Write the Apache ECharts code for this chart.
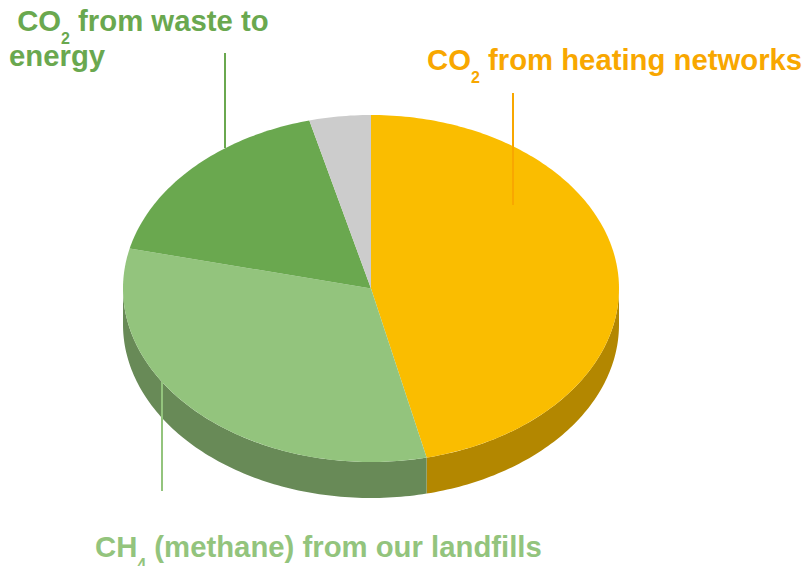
<!DOCTYPE html>
<html><head><meta charset="utf-8">
<script src="https://cdn.jsdelivr.net/npm/echarts@6/dist/echarts.min.js"></script>
<style>html,body{margin:0;padding:0;background:#fff}#c{width:809px;height:566px}</style>
</head><body><div id="c"></div>
<script>
// ---- data ----
const categories = ['CO2 from heating networks', 'CH4 (methane) from our landfills', 'CO2 from waste to energy', 'Other'];
const values = [46.4, 32.3, 17.3, 4.0];
const topColors = ['#FABD00', '#93C47D', '#6AA84F', '#CCCCCC'];
const sideColors = ['#B38700', '#688A57', '#4C7A38', '#999999'];
const labelColors = ['#F8A700', '#93C47D', '#6AA84F', null];

// ---- layout ----
const CX = 371, CY = 288.5, RX = 248, RY = 173.5, DEPTH = 36;
const total = values.reduce((a, b) => a + b, 0);
const starts = []; let acc = 0;
values.forEach(v => { starts.push(acc / total * Math.PI * 2); acc += v; });

function pt(t, dz) { return [CX + RX * Math.sin(t), CY - RY * Math.cos(t) + (dz || 0)]; }
function arc(a0, a1, dz) {
  const n = Math.max(2, Math.ceil((a1 - a0) / (Math.PI / 180)));
  const out = [];
  for (let i = 0; i <= n; i++) out.push(pt(a0 + (a1 - a0) * i / n, dz));
  return out;
}
function renderItem(params, api) {
  const i = params.dataIndex;
  const v = api.value(0);
  const a0 = starts[i], a1 = a0 + v / total * Math.PI * 2;
  const children = [];
  const s0 = Math.max(a0, Math.PI / 2), s1 = Math.min(a1, Math.PI * 1.5);
  if (s1 > s0) {
    const pts = arc(s0, s1, 0).concat(arc(s0, s1, DEPTH).reverse());
    children.push({ type: 'polygon', z2: 1, shape: { points: pts }, style: { fill: sideColors[i] } });
  }
  children.push({ type: 'polygon', z2: 10, shape: { points: [[CX, CY]].concat(arc(a0, a1, 0)) }, style: { fill: topColors[i] } });
  return { type: 'group', children };
}
function richText(name) { return '{m|' + name.replace(/([A-Z])(\d)/g, '$1}{s|$2}{m|') + '}'; }
function richStyles(color) {
  return {
    m: { fontSize: 29.3, fontWeight: 'bold', fontFamily: 'Liberation Sans, Arial, sans-serif', lineHeight: 35, fill: color },
    s: { fontSize: 16, fontWeight: 'bold', fontFamily: 'Liberation Sans, Arial, sans-serif', lineHeight: 10, verticalAlign: 'top', padding: [28, 0, 0, 0], fill: color }
  };
}
// label placements: [x, y, wrapWidth, leading] ; leader lines [x, y1, y2]
const labelPos = [[427, 41.5, null, ''], [95, 528.5, null, ''], [9, 2.5, 268, ' ']];
const leaders = [[513, 93, 205], [162, 382, 491], [225, 53, 148]];

const graphics = [];
[0, 1, 2].forEach(i => {
  const st = { text: richText(labelPos[i][3] + categories[i]), rich: richStyles(labelColors[i]), align: 'left', verticalAlign: 'top' };
  if (labelPos[i][2]) { st.width = labelPos[i][2]; st.overflow = 'break'; }
  graphics.push({ type: 'text', x: labelPos[i][0], y: labelPos[i][1], style: st, z: 10 });
  graphics.push({ type: 'line', shape: { x1: leaders[i][0], y1: leaders[i][1], x2: leaders[i][0], y2: leaders[i][2] },
    style: { stroke: labelColors[i], lineWidth: 2 }, z: 10 });
});

const chart = echarts.init(document.getElementById('c'), null, { renderer: 'svg' });
chart.setOption({
  animation: false,
  backgroundColor: '#fff',
  series: [{
    type: 'custom',
    coordinateSystem: 'none',
    renderItem: renderItem,
    data: values.map((v, i) => ({ name: categories[i], value: [v] }))
  }],
  graphic: graphics
});
</script>
</body></html>
